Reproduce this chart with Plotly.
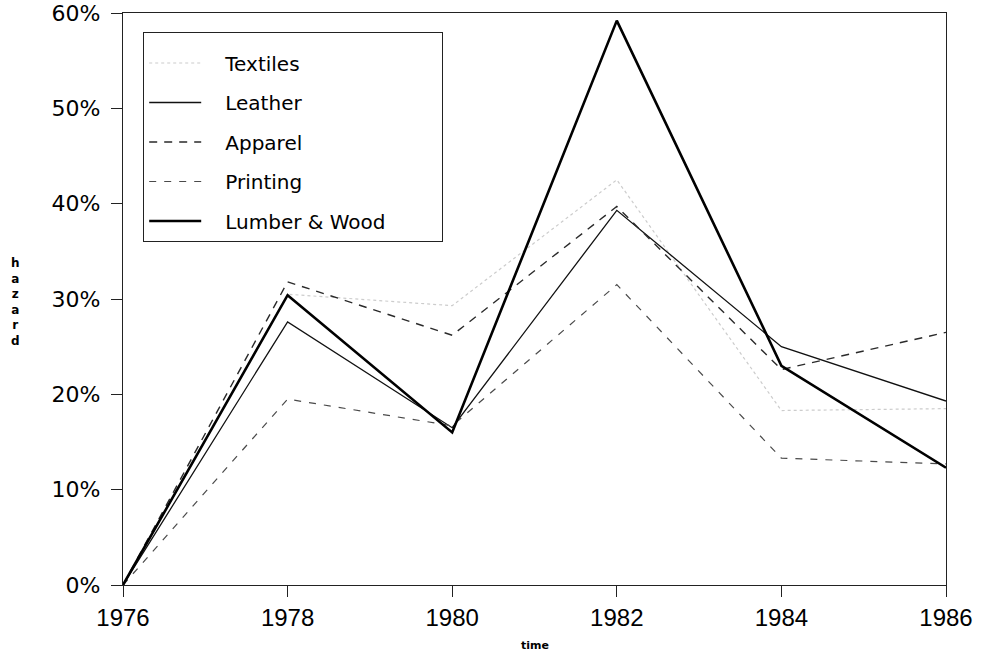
import plotly.graph_objects as go

years = [1976, 1978, 1980, 1982, 1984, 1986]
textiles = [0.0, 30.5, 29.3, 42.5, 18.3, 18.5]
leather = [0.0, 27.6, 16.5, 39.3, 25.0, 19.3]
apparel = [0.0, 31.8, 26.2, 39.7, 22.6, 26.5]
printing = [0.0, 19.5, 16.7, 31.5, 13.3, 12.7]
lumber = [0.0, 30.4, 16.0, 59.2, 23.0, 12.3]

x_ticks = [1976, 1978, 1980, 1982, 1984, 1986]
y_ticks = [0, 10, 20, 30, 40, 50, 60]

series = [
    ("Textiles", textiles, dict(color="#cccccc", width=1.2, dash="dot")),
    ("Leather", leather, dict(color="#111111", width=1.3, dash="solid")),
    ("Apparel", apparel, dict(color="#2a2a2a", width=1.4, dash="8px,7px")),
    ("Printing", printing, dict(color="#4a4a4a", width=1.2, dash="7px,8px")),
    ("Lumber & Wood", lumber, dict(color="#000000", width=2.6, dash="solid")),
]

fig = go.Figure()
for name, vals, line in series:
    label = "\u00a0" * 3 + name
    if name == "Lumber & Wood":
        label = label + "\u00a0" * 8
    fig.add_trace(go.Scatter(
        x=years, y=vals, mode="lines", name=label, line=line,
        legendgroup=name, showlegend=True,
    ))

axis_common = dict(
    showgrid=False, zeroline=False, showline=True, linecolor="#222222",
    linewidth=1.2, mirror=True, ticks="outside", ticklen=11, tickwidth=1.2,
    tickcolor="#222222", automargin=False,
)

fig.update_layout(
    width=981, height=658,
    margin=dict(l=123, r=35, t=13, b=73),
    paper_bgcolor="white", plot_bgcolor="white",
    showlegend=True,
    legend=dict(
        x=0.0243, y=0.967, xanchor="left", yanchor="top",
        bgcolor="white", bordercolor="#222222", borderwidth=1.2,
        font=dict(family="DejaVu Sans", size=20, color="#000000"),
        tracegroupgap=10.5, itemwidth=52,
        title=dict(text="\u00a0", font=dict(size=8)),
    ),
    xaxis=dict(
        range=[1976, 1986], tickvals=x_ticks, ticktext=[str(v) for v in x_ticks],
        tickfont=dict(family="Liberation Sans", size=24, color="#000000"),
        ticklabelstandoff=0, **axis_common,
    ),
    yaxis=dict(
        range=[0, 60], tickvals=y_ticks, ticktext=[f"{v}%" for v in y_ticks],
        tickfont=dict(family="DejaVu Sans", size=22, color="#000000"),
        ticklabelstandoff=6, **axis_common,
    ),
    annotations=[
        dict(text="<b>time</b>", x=0.5, y=-(645 - 585) / 572, xref="paper", yref="paper",
             xanchor="center", yanchor="middle", showarrow=False,
             font=dict(family="DejaVu Sans", size=11, color="#000000")),
        dict(text="<b>h<br>a<br>z<br>a<br>r<br>d</b>", x=(15 - 123) / 823, y=(585 - 302) / 572,
             xref="paper", yref="paper", xanchor="center", yanchor="middle",
             showarrow=False, align="center",
             font=dict(family="DejaVu Sans", size=12, color="#000000")),
    ],
)

fig.write_html("out.html", config={"displayModeBar": False},
               post_script="document.body.style.margin='0';")
